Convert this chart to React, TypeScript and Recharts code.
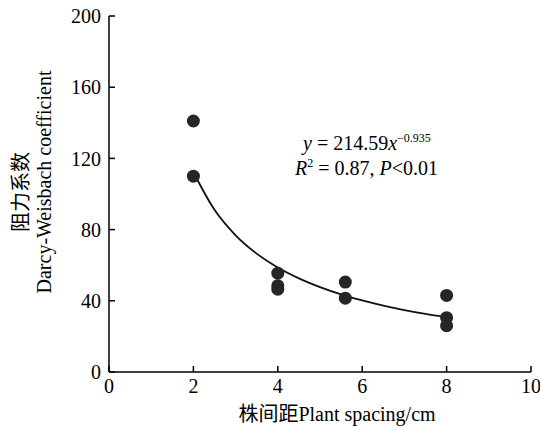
import React from 'react';
import { ComposedChart, Scatter, Line, XAxis, YAxis, Customized } from 'recharts';

// measured points: plant spacing (cm) vs Darcy-Weisbach coefficient
const spacing = [2, 2, 4, 4, 4, 5.6, 5.6, 8, 8, 8];
const friction = [141, 110, 55.5, 48.5, 46.5, 50.5, 41.5, 43, 30.5, 26];

// fitted power curve y = 214.59x^-0.935
const fitX = [2, 2.5, 3, 3.5, 4, 4.5, 5, 5.5, 6, 6.5, 7, 7.5, 8];
const fitY = [112.2, 91.1, 76.8, 66.5, 58.7, 52.6, 47.7, 43.6, 40.2, 37.3, 34.8, 32.6, 30.7];

const xTicks = [0, 2, 4, 6, 8, 10];
const yTicks = [0, 40, 80, 120, 160, 200];

const points = spacing.map((x, i) => ({ x, y: friction[i] }));
const fitData = fitX.map((x, i) => ({ x, y: fitY[i] }));

const FONT = 'Liberation Serif';

const Annotations = () => (
  <g fontFamily={FONT} fill="#000">
    <text x={19} y={192} transform="rotate(-90 19 192)" textAnchor="middle" dominantBaseline="central" fontSize={20} fontFamily="Noto Sans CJK SC">
      阻力系数
    </text>
    <text x={44} y={182} transform="rotate(-90 44 182)" textAnchor="middle" dominantBaseline="central" fontSize={20}>
      Darcy-Weisbach coefficient
    </text>
    <text x={337} y={421} textAnchor="middle" fontSize={20}>
      <tspan fontFamily="Noto Sans CJK SC">株间距</tspan>
      <tspan>Plant spacing/cm</tspan>
    </text>
    <text x={303} y={150} fontSize={20}>
      <tspan fontStyle="italic">y</tspan>
      <tspan> = 214.59</tspan>
      <tspan fontStyle="italic">x</tspan>
      <tspan fontSize={12} dy={-8}>−0.935</tspan>
    </text>
    <text x={295} y={175} fontSize={20}>
      <tspan fontStyle="italic">R</tspan>
      <tspan fontSize={12} dy={-8}>2</tspan>
      <tspan dy={8}> = 0.87, </tspan>
      <tspan fontStyle="italic">P</tspan>
      <tspan>&lt;0.01</tspan>
    </text>
  </g>
);

const XTick = (props: any) => (
  <text x={props.x} y={props.y} dy="0.71em" textAnchor="middle" fontSize={20} fontFamily={FONT} fill="#000">
    {props.payload.value}
  </text>
);

const YTick = (props: any) => (
  <text x={props.x} y={props.y} dy="0.355em" textAnchor="end" fontSize={20} fontFamily={FONT} fill="#000">
    {props.payload.value}
  </text>
);

export default function App() {
  return (
    <div style={{ position: 'absolute', left: 0, top: 0, background: '#fff' }}>
      <ComposedChart width={540} height={428} margin={{ top: 16, right: 9, bottom: 0, left: 0 }}>
        <XAxis
          dataKey="x"
          type="number"
          domain={[0, 10]}
          ticks={xTicks}
          height={56}
          axisLine={{ stroke: '#000', strokeWidth: 1.5 }}
          tickLine={{ stroke: '#000', strokeWidth: 1.5 }}
          tickSize={-6}
          tickMargin={13}
          tick={XTick}
          allowDataOverflow
        />
        <YAxis
          dataKey="y"
          type="number"
          domain={[0, 200]}
          ticks={yTicks}
          width={109}
          axisLine={{ stroke: '#000', strokeWidth: 1.5 }}
          tickLine={{ stroke: '#000', strokeWidth: 1.5 }}
          tickSize={-6}
          tickMargin={14}
          tick={YTick}
          allowDataOverflow
        />
        <Line
          data={fitData}
          dataKey="y"
          type="monotone"
          stroke="#111"
          strokeWidth={1.8}
          dot={false}
          activeDot={false}
          isAnimationActive={false}
        />
        <Scatter data={points} dataKey="y" fill="#262626" shape={(p: any) => <circle cx={p.cx} cy={p.cy} r={6.5} fill="#262626" />} isAnimationActive={false} />
        <Customized component={Annotations} />
      </ComposedChart>
    </div>
  );
}
